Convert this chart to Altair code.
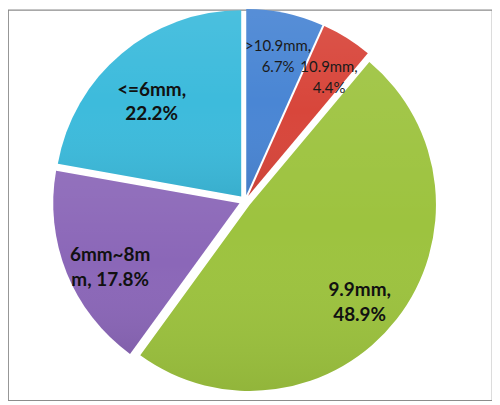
import altair as alt
import pandas as pd

# ---- data ----
categories = [">10.9mm", "10.9mm", "9.9mm", "6mm~8mm", "<=6mm"]
shares = [6.7, 4.4, 48.9, 17.8, 22.2]
labels = [">10.9mm,\n6.7%", "10.9mm,\n4.4%", "9.9mm,\n48.9%", "6mm~8m\nm, 17.8%", "<=6mm,\n22.2%"]

palette = ["#4a86d4", "#d8463b", "#9dc33f", "#8b67b8", "#3dbbdc"]

df = pd.DataFrame({
    "idx": list(range(len(categories))),
    "category": categories,
    "share": shares,
    "label": labels,
})

W, H = 486, 392
EXPLODE = 6

xs = alt.Scale(domain=[-238, 248])
ys = alt.Scale(domain=[-200, 192])

base = alt.Chart(df).transform_window(
    cum="sum(share)", sort=[alt.SortField("idx")], frame=[None, 0]
).transform_calculate(
    t1="datum.cum / 100 * 2 * PI",
    t0="(datum.cum - datum.share) / 100 * 2 * PI",
).transform_calculate(
    mid="(datum.t0 + datum.t1) / 2",
).transform_calculate(
    ox=f"{EXPLODE} * sin(datum.mid)",
    oy=f"{EXPLODE} * cos(datum.mid)",
)

slices = base.mark_arc(outerRadius=187).encode(
    x=alt.X("ox:Q", scale=xs, axis=None),
    y=alt.Y("oy:Q", scale=ys, axis=None),
    theta=alt.Theta("t0:Q", scale=None),
    theta2="t1:Q",
    color=alt.Color("category:N", scale=alt.Scale(domain=categories, range=palette), legend=None),
)

sheen = base.mark_arc(
    outerRadius=187,
    fill=alt.LinearGradient(
        gradient="linear",
        stops=[
            alt.GradientStop(color="rgba(255,255,255,0.07)", offset=0),
            alt.GradientStop(color="rgba(255,255,255,0.0)", offset=0.5),
            alt.GradientStop(color="rgba(0,0,0,0.07)", offset=1),
        ],
        x1=0, x2=0, y1=0, y2=1,
    ),
).encode(
    x=alt.X("ox:Q", scale=xs, axis=None),
    y=alt.Y("oy:Q", scale=ys, axis=None),
    theta=alt.Theta("t0:Q", scale=None),
    theta2="t1:Q",
)

big = base.transform_filter("datum.share >= 10").transform_calculate(
    lx="datum.ox + 140 * sin(datum.mid)",
    ly="datum.oy + 140 * cos(datum.mid)",
).mark_text(
    font="Lato", fontWeight="bold", fontSize=19, lineBreak="\n", lineHeight=25,
    align="center", baseline="middle", color="#111111",
).encode(
    x=alt.X("lx:Q", scale=xs, axis=None),
    y=alt.Y("ly:Q", scale=ys, axis=None),
    text="label:N",
)

small = base.transform_filter("datum.share < 10").transform_calculate(
    lx="datum.ox + 153 * sin(datum.mid)",
    ly="datum.oy + 153 * cos(datum.mid)",
).mark_text(
    font="Lato", fontSize=15, lineBreak="\n", lineHeight=21,
    align="center", baseline="middle", color="#1a1a1a",
).encode(
    x=alt.X("lx:Q", scale=xs, axis=None),
    y=alt.Y("ly:Q", scale=ys, axis=None),
    text="label:N",
)

chart = alt.layer(slices, sheen, big, small).properties(
    width=W, height=H, padding=0
).configure_view(stroke="#8c8c8c", strokeWidth=1.2)

chart.save("out.html", embed_options={"renderer": "svg", "actions": False})
